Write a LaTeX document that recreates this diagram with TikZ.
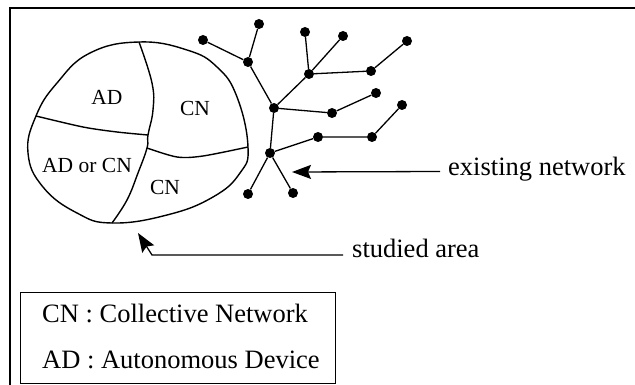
\documentclass[tikz,border=0pt]{standalone}
\usepackage{fontspec}
\setmainfont{Liberation Serif}
\usetikzlibrary{arrows.meta}
\begin{document}
\begin{tikzpicture}[x=1pt,y=-1pt,
  dot/.style={circle,fill=black,inner sep=0pt,minimum size=10pt},
  link/.style={line width=1.3pt},
  area/.style={line width=1.4pt},
  big/.style={font=\fontsize{26.5}{30}\selectfont, inner sep=0pt},
  lbl/.style={font=\fontsize{21.5}{24}\selectfont, inner sep=0pt},
  arr/.style={line width=1.3pt,-{Stealth[length=19pt,width=14pt,inset=3pt]}}]
\useasboundingbox (0,0) rectangle (635,385);
% frame
\draw[line width=1.6pt] (635,8) -- (10,8) -- (10,385);
% studied area
\draw[area] plot[smooth cycle, tension=0.75] coordinates {(139,42) (187,50) (217,67) (237,97) (248,147) (240,173) (213,197) (167,215) (112,223) (77,213) (43,187) (28,153) (36,116) (57,83) (90,53)};
\draw[area] plot[smooth, tension=0.7] coordinates {(139,42) (152,83) (153,110) (148,135) (147,148) (138,173) (127,200) (112,223)};
\draw[area] plot[smooth] coordinates {(36,116) (83,127) (117,132) (148,135)};
\draw[area] plot[smooth] coordinates {(147,148) (177,157) (203,156) (248,147)};
\node[lbl] (ad1) at (107,97) {AD};
\node[lbl] (cn1) at (195,108) {CN};
\node[lbl] (adcn) at (87,165) {AD or CN};
\node[lbl] (cn2) at (165,187) {CN};
% existing network
\node[dot] (a) at (203,40) {};
\node[dot] (b) at (259,24) {};
\node[dot] (c) at (248,62) {};
\node[dot] (d) at (274,108) {};
\node[dot] (e) at (270,153) {};
\node[dot] (f) at (248,194) {};
\node[dot] (g) at (293,193) {};
\node[dot] (h) at (305,32) {};
\node[dot] (i) at (343,36) {};
\node[dot] (j) at (309,74) {};
\node[dot] (k) at (371,71) {};
\node[dot] (l) at (407,41) {};
\node[dot] (m) at (332,113) {};
\node[dot] (n) at (376,93) {};
\node[dot] (o) at (318,137) {};
\node[dot] (p) at (372,137) {};
\node[dot] (q) at (402,105) {};
\draw[link] (a) -- (c) (b) -- (c) (c) -- (d) (d) -- (j) (j) -- (h) (j) -- (i)
  (j) -- (k) (k) -- (l) (d) -- (m) (m) -- (n) (d) -- (e) (e) -- (o) (o) -- (p)
  (p) -- (q) (e) -- (f) (e) -- (g);
% labels with arrows
\node[big, anchor=base west] (exist) at (448,176) {existing network};
\coordinate (extip) at (292,172);
\draw[arr] ([xshift=-8pt,yshift=4.5pt]exist.base west) -- (extip);
\node[big, anchor=base west] (studied) at (352,257) {studied area};
\coordinate (bend) at (152,255);
\coordinate (sttip) at (138,233);
\draw[arr] ([xshift=-9pt,yshift=2pt]studied.base west) -- (bend) -- (sttip);
% legend
\node[draw, line width=1.3pt, minimum width=315pt, minimum height=91pt, anchor=north west, inner sep=0pt] (legend) at (20,292) {};
\node[big, anchor=base west] (l1) at (42,322) {CN : Collective Network};
\node[big, anchor=base west] (l2) at (42,368) {AD : Autonomous Device};
\end{tikzpicture}
\end{document}
